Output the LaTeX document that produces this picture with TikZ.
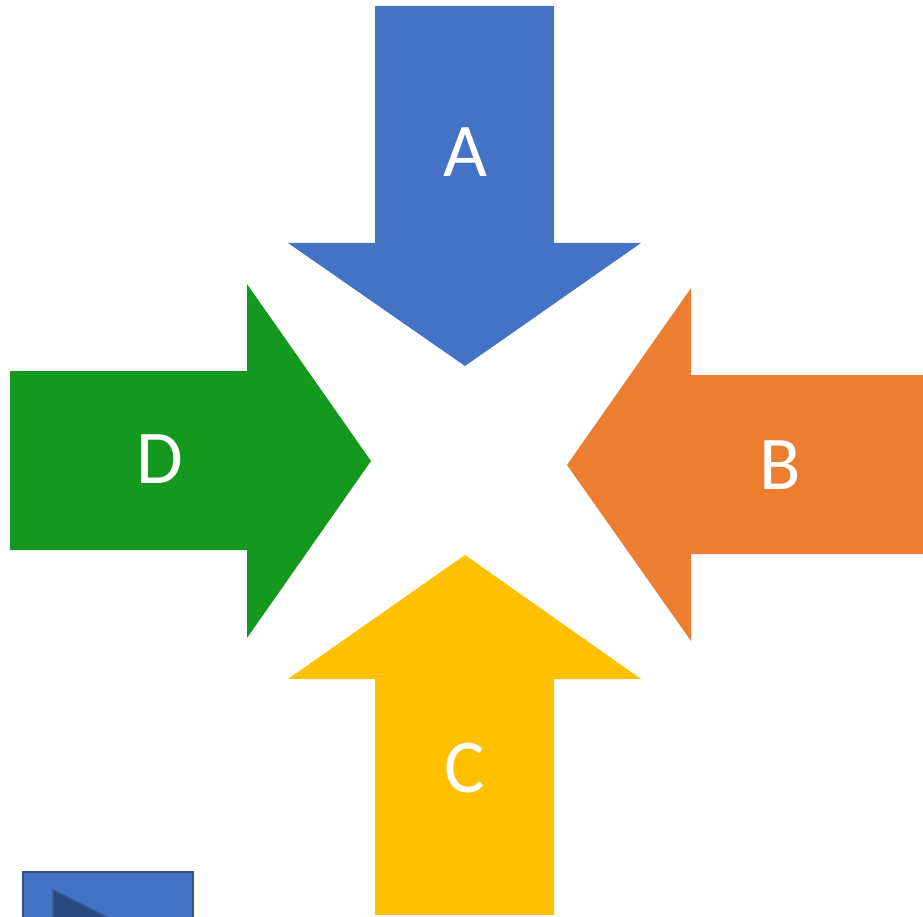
\documentclass[tikz,border=0pt]{standalone}
\usepackage{fontspec}
\setmainfont{Carlito}
\definecolor{cA}{HTML}{4472C4}
\definecolor{cB}{HTML}{ED7D31}
\definecolor{cC}{HTML}{FFC000}
\definecolor{cD}{HTML}{14991E}
\definecolor{cEdge}{HTML}{2F528F}
\definecolor{cTri}{HTML}{2A4A80}
\tikzset{
  lbl/.style={text=white, font=\fontsize{76}{76}\selectfont, inner sep=0pt},
}
\begin{document}
\begin{tikzpicture}[x=1pt,y=-1pt]
\useasboundingbox (0,0) rectangle (923,917);
\begin{scope}
\clip (0,0) rectangle (923,917);
% A (down)
\fill[cA] (375,6) -- (554,6) -- (554,243) -- (641,243) -- (465,366) -- (288,243) -- (375,243) -- cycle;
% C (up)
\fill[cC] (375,915) -- (554,915) -- (554,679) -- (641,679) -- (465,555) -- (288,679) -- (375,679) -- cycle;
% D (right)
\fill[cD] (10,371) -- (247,371) -- (247,284) -- (371,461) -- (247,638) -- (247,550) -- (10,550) -- cycle;
% B (left)
\fill[cB] (923,375) -- (691,375) -- (691,288) -- (567,465) -- (691,641) -- (691,554) -- (923,554) -- cycle;
% small button
\draw[cEdge, fill=cA, line width=2pt] (23,872) rectangle (193,960);
\draw[cEdge!80!cA, fill=cTri, line width=1.5pt] (53,890) -- (160,944) -- (53,998) -- cycle;
\end{scope}
\node[lbl] (A) at (465,152) {A};
\node[lbl] (B) at (780,465) {B};
\node[lbl] (C) at (465,768) {C};
\node[lbl] (D) at (160,459) {D};
\end{tikzpicture}
\end{document}
